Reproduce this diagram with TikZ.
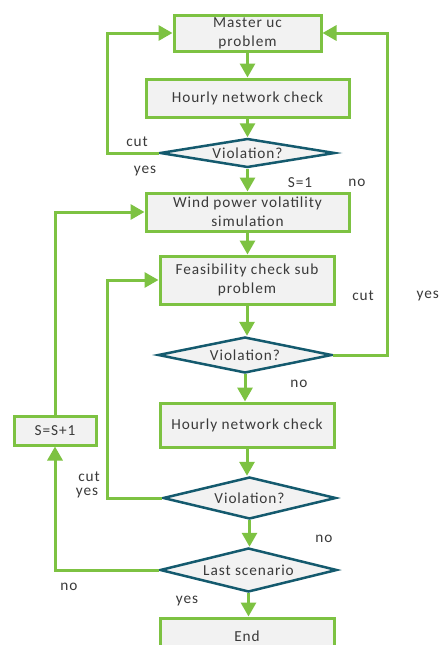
\documentclass[tikz,border=0pt]{standalone}
\usepackage{fontspec}
\setmainfont{Carlito}[LetterSpace=6]
\usetikzlibrary{arrows.meta,shapes.geometric,shadows}
\definecolor{fgreen}{HTML}{7DC242}
\definecolor{fteal}{HTML}{145A6E}
\definecolor{fbox}{HTML}{F2F2F2}
\definecolor{ftext}{HTML}{3A3A3A}
\begin{document}
\begin{tikzpicture}[x=1pt,y=-1pt,
  every node/.style={text=ftext,font=\fontsize{15.3}{19}\selectfont},
  procbox/.style={rectangle,draw=fgreen,line width=3pt,fill=fbox,inner sep=0pt,align=center,
    drop shadow={opacity=0.25,shadow xshift=2pt,shadow yshift=-2pt}},
  decision/.style={diamond,draw=fteal,line width=2.5pt,fill=fbox,inner sep=0pt,aspect=1},
  lbl/.style={inner sep=0pt},
  arr/.style={draw=fgreen,line width=3pt,-{Triangle[length=14pt,width=15pt]}},
  line join=miter]
\useasboundingbox (0,0) rectangle (440,645);
\fill[white] (0,0) rectangle (440,645);
% boxes
\node[procbox,minimum width=147pt,minimum height=36pt] (master) at (247.5,33) {Master uc\\problem};
\node[procbox,minimum width=203pt,minimum height=38pt] (hour1) at (247.5,98) {Hourly network check};
\node[decision,minimum width=175pt,minimum height=29pt] (v1) at (247.5,153) {};
\node[lbl] (v1t) at (v1) {Violation?};
\node[procbox,minimum width=203pt,minimum height=38pt] (wind) at (247.5,212) {Wind power volatility\\simulation};
\node[procbox,minimum width=174pt,minimum height=48pt] (feas) at (247,280) {Feasibility check sub\\problem};
\node[decision,minimum width=174pt,minimum height=36pt] (v2) at (245,355) {};
\node[lbl] (v2t) at (v2) {Violation?};
\node[procbox,minimum width=174pt,minimum height=44pt] (hour2) at (247,425) {Hourly network check};
\node[decision,minimum width=173pt,minimum height=42pt] (v3) at (249.5,498) {};
\node[lbl] (v3t) at (v3) {Violation?};
\node[decision,minimum width=177pt,minimum height=44pt] (last) at (248.5,570) {};
\node[lbl] (lastt) at (last) {Last scenario};
\node[procbox,minimum width=174pt,minimum height=36pt] (end) at (247,636) {End};
\node[procbox,minimum width=82pt,minimum height=29pt] (ss) at (55,430.5) {S=S+1};
\coordinate (L1) at (107,0);
\coordinate (R1) at (387,0);
% main flow
\draw[arr] (master.south) -- (master.south |- hour1.north);
\draw[arr] (hour1.south) -- (hour1.south |- v1.north);
\draw[arr] (v1.south) -- (v1.south |- wind.north);
\draw[arr] (wind.south) -- (wind.south |- feas.north);
\draw[arr] (feas.south) -- (feas.south |- v2.north);
\draw[arr] (v2.south) -- (v2.south |- hour2.north);
\draw[arr] (hour2.south) -- (hour2.south |- v3.north);
\draw[arr] (v3.south) -- (v3.south |- last.north);
\draw[arr] (last.south) -- (last.south |- end.north);
% loops
\draw[arr] (v1.west) -- (v1.west -| L1) |- (master.west);
\draw[arr] (v2.east) -- (v2.east -| R1) |- (master.east);
\draw[arr] (v3.west) -- (v3.west -| L1) |- (feas.west);
\draw[arr] (ss.north) |- (wind.west);
\draw[arr] (last.west) -| (ss.south);
% labels
\node[lbl] (c1) at (137,142) {cut};
\node[lbl] (y1) at (145,171) {yes};
\node[lbl] (s1) at (300,183) {S=1};
\node[lbl] (n1) at (357,183) {no};
\node[lbl] (c2) at (363,296) {cut};
\node[lbl,anchor=east] (y2) at (439,296) {yes};
\node[lbl] (n2) at (299,384) {no};
\node[lbl] (c3) at (89,477) {cut};
\node[lbl] (y3) at (87,493) {yes};
\node[lbl] (n3) at (324,539) {no};
\node[lbl] (n4) at (69,587) {no};
\node[lbl] (y4) at (187,601) {yes};
\end{tikzpicture}
\end{document}
